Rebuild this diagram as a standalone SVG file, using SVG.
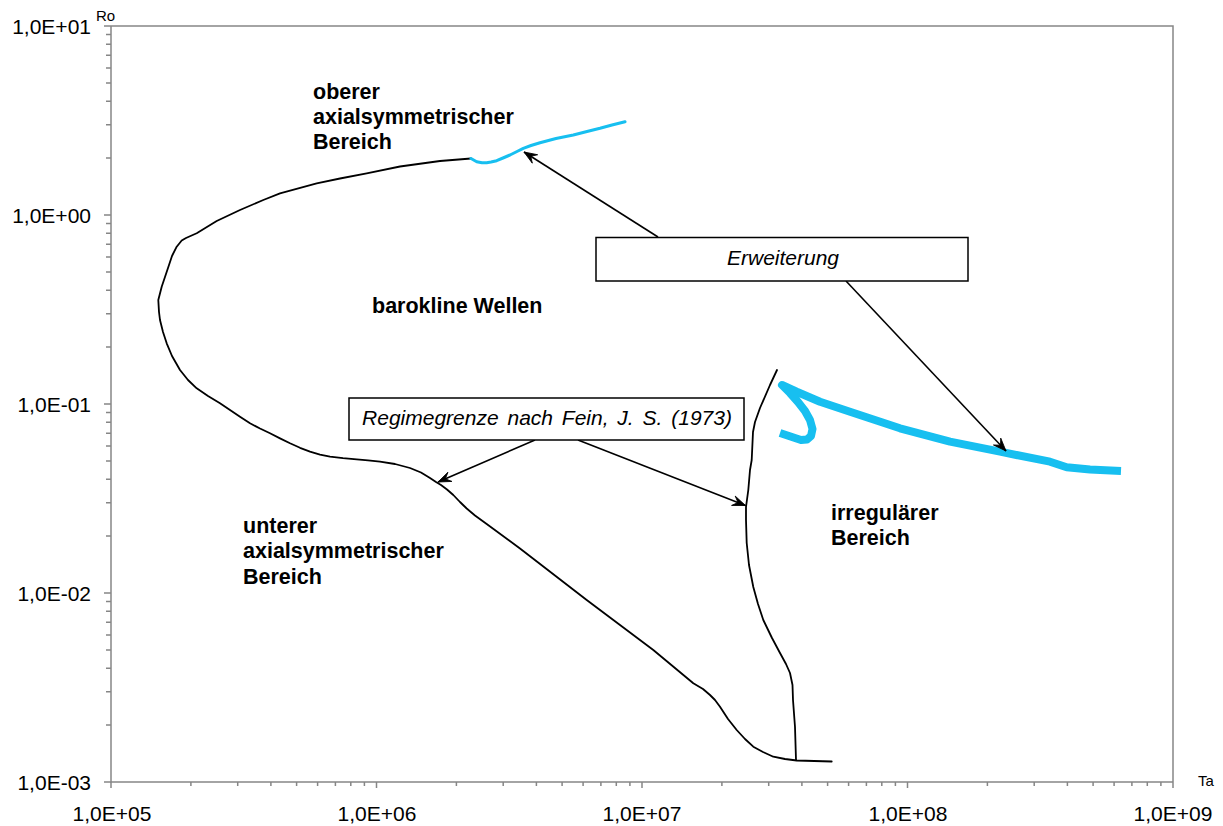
<svg xmlns="http://www.w3.org/2000/svg" width="1223" height="826" viewBox="0 0 1223 826">
<defs>
<style>
.ax{fill:none;stroke:#868686;stroke-width:1.5}
.tk{font-family:"Liberation Sans",Arial,sans-serif;font-size:21px;fill:#000}
.lbl{font-family:"Liberation Sans",Arial,sans-serif;font-size:21.5px;font-weight:bold;fill:#000}
.box{fill:#fff;stroke:#000;stroke-width:1.5}
.bt{font-family:"Liberation Sans",Arial,sans-serif;font-size:21px;font-style:italic;fill:#000;text-anchor:middle}
.crv{fill:none;stroke:#000;stroke-width:1.8;stroke-linejoin:round;stroke-linecap:round}
.arr{fill:none;stroke:#000;stroke-width:1.6;marker-end:url(#ah)}
</style>
<marker id="ah" viewBox="-14 -7 16 14" refX="0" refY="0" markerWidth="16" markerHeight="14" markerUnits="userSpaceOnUse" orient="auto">
<path d="M0,0 L-13,-5 L-8,0 L-13,5 Z" fill="#000" stroke="#000" stroke-width="0.8" stroke-linejoin="round"/>
</marker>
</defs>
<rect width="1223" height="826" fill="#fff"/>
<g id="axes">
<path class="ax" d="M111,26 H1173 V782 M111,26 V782 H1173"/>
<path class="ax" d="M111,782 v6 M376.5,782 v6 M642,782 v6 M907.5,782 v6 M1173,782 v6
M190.9,782 v4 M237.7,782 v4 M270.9,782 v4 M296.6,782 v4 M317.6,782 v4 M335.4,782 v4 M350.8,782 v4 M364.4,782 v4
M456.4,782 v4 M503.2,782 v4 M536.4,782 v4 M562.1,782 v4 M583.1,782 v4 M600.9,782 v4 M616.3,782 v4 M629.9,782 v4
M721.9,782 v4 M768.7,782 v4 M801.9,782 v4 M827.6,782 v4 M848.6,782 v4 M866.4,782 v4 M881.8,782 v4 M895.4,782 v4
M987.4,782 v4 M1034.2,782 v4 M1067.4,782 v4 M1093.1,782 v4 M1114.1,782 v4 M1131.9,782 v4 M1147.3,782 v4 M1160.9,782 v4"/>
<path class="ax" d="M111,26 h-7 M111,215 h-7 M111,404 h-7 M111,593 h-7 M111,782 h-7
M111,725.1 h-5 M111,691.8 h-5 M111,668.2 h-5 M111,649.9 h-5 M111,634.9 h-5 M111,622.3 h-5 M111,611.3 h-5 M111,601.6 h-5
M111,536.1 h-5 M111,502.8 h-5 M111,479.2 h-5 M111,460.9 h-5 M111,445.9 h-5 M111,433.3 h-5 M111,422.3 h-5 M111,412.6 h-5
M111,347.1 h-5 M111,313.8 h-5 M111,290.2 h-5 M111,271.9 h-5 M111,256.9 h-5 M111,244.3 h-5 M111,233.3 h-5 M111,223.6 h-5
M111,158.1 h-5 M111,124.8 h-5 M111,101.2 h-5 M111,82.9 h-5 M111,67.9 h-5 M111,55.3 h-5 M111,44.3 h-5 M111,34.6 h-5"/>
<g class="tk" text-anchor="end">
<text x="91" y="34">1,0E+01</text>
<text x="91" y="223">1,0E+00</text>
<text x="91" y="412">1,0E-01</text>
<text x="91" y="601">1,0E-02</text>
<text x="91" y="790">1,0E-03</text>
</g>
<g class="tk" text-anchor="middle">
<text x="112" y="821">1,0E+05</text>
<text x="377" y="821">1,0E+06</text>
<text x="642" y="821">1,0E+07</text>
<text x="908" y="821">1,0E+08</text>
<text x="1173" y="821">1,0E+09</text>
</g>
<text x="96" y="21" font-family="Liberation Sans, Arial, sans-serif" font-size="15">Ro</text>
<text x="1198" y="786" font-family="Liberation Sans, Arial, sans-serif" font-size="15">Ta</text>
</g>
<g id="curves">
<polyline id="fein-left" class="crv" points="471,158.5 440,161 400,166.5 366.7,173.3 340,178.5 316.7,183.3 280,193.3 263.3,200 240,210 216.7,221 196.7,233.3 186,238 181.7,240.5 176.7,246.7 172,256 168,268 161.7,286.7 158.3,300 159,312 160,320 163,332 166.7,343.3 172,356 180,370 188,380 196.7,388.3 208,396 220,403.3 230,410 240,416.8 250,423.3 260,428.5 270,433.3 280,438.4 290,443.3 300,447.8 310,451.7 320,454.6 330,456.7 343,458.2 356.7,459.3 368,460.3 380,461.7 395,464 410,468 421,472.5 430,478 436,482 441,485 447,489.5 453.3,495 460,502 466.7,508.5 475,515.5 486.7,524 520,548.5 586.7,600 653.3,650 693.3,683.3 703,689 710,695 715,700 720,706.7 728,719 736.7,730 745,739 753.3,746.7 763,752 773.3,756.7 785,759 796.7,760.5 831.7,761.5"/>
<polyline id="fein-right" class="crv" points="777,370 770,385 760,408 755,422 753,432 751.7,460 750,470 748.3,490 746,507 746,520 746.7,543 749,565 753.3,587 758,604 763.3,620 772,638 780,653 786,664 790,673 792.5,685 793,700 795,727 796,760"/>
<polyline id="ext-upper" fill="none" stroke="#17BFF0" stroke-width="3" stroke-linejoin="round" stroke-linecap="round" points="471,158.5 476.7,161.7 482,162.8 486.7,162.7 491,162 496.7,160.7 503,158 510,155 517,151.5 523.3,148.3 531,145.5 540,142.7 556,138.5 573.3,135 587,131.5 600,128.3 612,125 625,121.7"/>
<polyline id="ext-lower" fill="none" stroke="#17BFF0" stroke-width="8" stroke-linejoin="round" points="780,433 792,437 801,440 807,439.5 811,436 812.5,429 810,420 805,411 798,402 790,393 782,385 796.7,391.7 820,401.7 850,411.7 900,428.3 950,441.7 1000,451.7 1050,461.7 1066.7,467.3 1090,469.5 1121,471"/>
</g>
<g id="connectors">
<line class="arr" x1="658" y1="237" x2="524" y2="152"/>
<line class="arr" x1="846" y1="281" x2="1006" y2="451"/>
<line class="arr" x1="535" y1="440" x2="438" y2="482"/>
<line class="arr" x1="578" y1="440" x2="745.5" y2="505.5"/>
</g>
<g id="node-erweiterung">
<rect class="box" x="596" y="237.5" width="372" height="43.5"/>
<text class="bt" x="783" y="265">Erweiterung</text>
</g>
<g id="node-regimegrenze">
<rect class="box" x="349" y="398" width="395" height="42"/>
<text class="bt" x="547" y="424.5" word-spacing="3">Regimegrenze nach Fein, J. S. (1973)</text>
</g>
<g id="label-oberer">
<text class="lbl" x="313" y="99">oberer</text>
<text class="lbl" x="313" y="124">axialsymmetrischer</text>
<text class="lbl" x="313" y="149">Bereich</text>
</g>
<g id="label-barokline">
<text class="lbl" x="372" y="313">barokline Wellen</text>
</g>
<g id="label-unterer">
<text class="lbl" x="243" y="533">unterer</text>
<text class="lbl" x="243" y="558">axialsymmetrischer</text>
<text class="lbl" x="243" y="584">Bereich</text>
</g>
<g id="label-irregulaer">
<text class="lbl" x="831" y="520">irregulärer</text>
<text class="lbl" x="831" y="545">Bereich</text>
</g>
</svg>
